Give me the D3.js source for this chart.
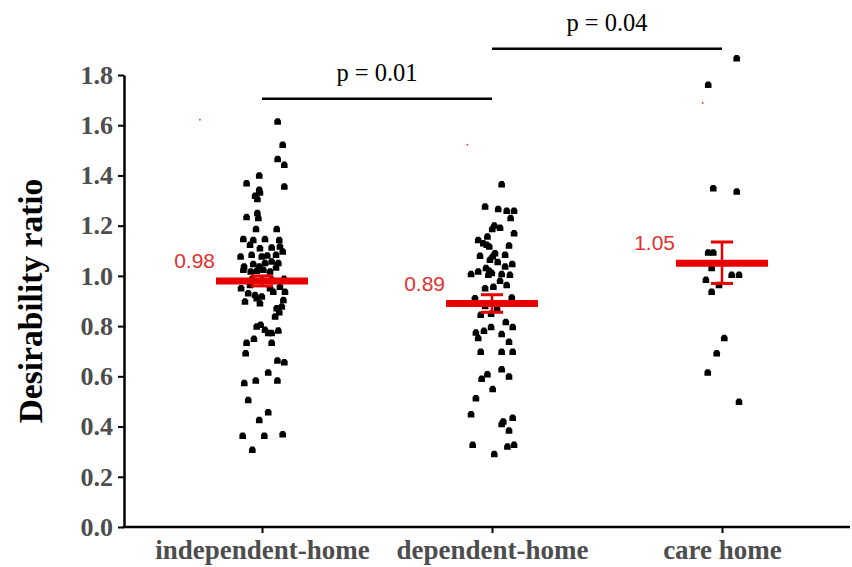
<!DOCTYPE html>
<html>
<head>
<meta charset="utf-8">
<script src="https://cdn.jsdelivr.net/npm/d3@7"></script>
<style>
  html, body { margin: 0; padding: 0; background: #fff; }
  svg { display: block; }
</style>
</head>
<body>
<svg id="chart" width="852" height="567"></svg>
<script>
// ---- data ----
const categories = ["independent-home", "dependent-home", "care home"];
const means = [0.98, 0.89, 1.05];
const errLow = [0.96, 0.855, 0.97];
const errHigh = [1.0, 0.925, 1.135];
const meanLabels = ["0.98", "0.89", "1.05"];
const yTicks = [0, 0.2, 0.4, 0.6, 0.8, 1.0, 1.2, 1.4, 1.6, 1.8];
const yTitle = "Desirability ratio";

const pFrom = [0, 1];
const pTo = [1, 2];
const pLevel = [1.705, 1.905];
const pLabels = ["p = 0.01", "p = 0.04"];

// individual ratios (value) and horizontal jitter (% of category step)
const indValues = [1.615,1.522,1.465,1.442,1.400,1.369,1.356,1.343,1.332,1.319,1.306,1.234,1.250,1.230,1.187,1.187,1.147,1.143,1.147,1.143,1.124,1.110,1.113,1.117,1.077,1.084,1.077,1.081,1.084,1.097,1.037,1.047,1.037,1.051,1.057,1.051,1.024,1.017,1.020,1.024,1.017,1.033,0.988,0.980,0.984,0.988,0.951,0.964,0.951,0.957,0.931,0.924,0.918,0.937,0.937,0.898,0.911,0.891,0.904,0.878,0.871,0.838,0.855,0.798,0.805,0.785,0.772,0.772,0.782,0.749,0.734,0.734,0.692,0.663,0.656,0.615,0.573,0.583,0.583,0.506,0.457,0.426,0.363,0.363,0.369,0.307];
const indJitter = [6.8,9.0,6.8,9.7,-1.2,-6.7,9.7,-1.2,-0.9,-3.0,-2.0,-6.7,-2.0,-1.6,-2.6,6.4,-8.1,-3.8,1.3,7.5,-5.2,-0.9,4.2,7.8,-9.3,-4.5,-0.1,2.3,6.1,9.0,-7.8,-3.8,-1.2,1.3,4.2,7.1,-8.1,-4.9,-2.3,0.6,3.5,6.1,-4.3,0,4.3,9.6,-9.1,-5.2,3.5,7.8,-6.0,-3.0,-0.1,4.9,10.0,-7.4,-2.3,-0.9,9.3,8.6,6.4,5.7,7.5,-2.3,-0.6,1.3,2.7,4.2,7.1,-3.5,-6.7,4.2,-7.1,6.7,9.7,2.7,-7.7,-2.7,6.7,-6.0,2.7,-1.2,-8.4,1.0,9.0,-4.2];
const depValues = [1.365,1.276,1.266,1.259,1.259,1.230,1.200,1.187,1.192,1.170,1.157,1.143,1.130,1.124,1.117,1.121,1.090,1.077,1.064,1.080,1.084,1.055,1.047,1.037,1.031,1.020,1.011,1.004,1.017,1.007,1.007,1.004,0.980,0.957,0.951,0.964,0.911,0.914,0.880,0.869,0.845,0.849,0.816,0.796,0.774,0.781,0.796,0.752,0.768,0.738,0.698,0.698,0.698,0.628,0.599,0.608,0.590,0.549,0.513,0.449,0.435,0.420,0.410,0.384,0.327,0.320,0.327,0.291];
const depJitter = [4.2,-3.0,2.7,6.4,9.6,8.1,1.0,0.1,3.5,9.6,-2.0,-6.0,-3.8,-2.3,-1.2,7.4,1.3,0.3,-0.9,-5.2,5.7,2.5,8.8,5.7,-2.6,-1.2,-0.1,-1.6,-6.0,-9.1,4.2,7.8,3.5,0.6,-3.0,6.4,-7.4,8.6,-3.0,2.2,-4.9,-0.4,6.0,9.0,-7.0,-3.5,-0.4,-6.0,4.2,7.4,-4.9,4.2,9.0,4.2,7.4,-2.0,-4.5,0.3,-7.0,-9.1,9.0,4.9,4.2,7.4,-8.4,6.7,9.6,1.0];
const careValues = [1.867,1.761,1.349,1.336,1.093,1.093,1.031,0.984,0.937,1.004,1.004,0.964,0.752,0.692,0.615,0.499];
const careJitter = [6.4,-6.0,-3.8,6.4,-6.0,-3.8,-4.5,-7.0,-4.5,4.2,7.4,-1.3,1.0,-2.3,-6.2,7.4];

// small stray red marks seen in the original
const strayValues = [1.622, 1.522, 1.688];
const strayJitter = [-27, -10.7, -8.4];

// ---- drawing ----
const svg = d3.select("#chart");
const axisLeftX = 124, axisRightX = 850, axisBottomY = 527, axisTopY = 75;

const y = d3.scaleLinear().domain([0, 1.8]).range([axisBottomY, axisTopY]);
const x = d3.scalePoint().domain(categories).range([262, 722]);
const step = x.step();

const red = "#e80000";
const labelRed = "#e2302f";
const serif = "'Liberation Serif', 'Times New Roman', serif";

// Y axis
const yAxis = svg.append("g")
  .attr("transform", `translate(${axisLeftX},0)`)
  .call(d3.axisLeft(y).tickValues(yTicks).tickFormat(d3.format(".1f")).tickSize(6).tickSizeOuter(0).tickPadding(5));
yAxis.select(".domain").attr("stroke", "#000").attr("stroke-width", 2.5);
yAxis.selectAll(".tick line").attr("stroke", "#000").attr("stroke-width", 2);
yAxis.selectAll(".tick text")
  .attr("font-family", serif).attr("font-weight", "bold").attr("font-size", 26)
  .attr("fill", "#4d4d4d");

// X axis
const xAxis = svg.append("g")
  .attr("transform", `translate(0,${axisBottomY})`)
  .call(d3.axisBottom(x).tickSize(6).tickSizeOuter(0).tickPadding(7));
xAxis.select(".domain").remove();
xAxis.append("line")
  .attr("x1", axisLeftX - 1.25).attr("x2", axisRightX).attr("y1", 0).attr("y2", 0)
  .attr("stroke", "#000").attr("stroke-width", 2.5);
xAxis.selectAll(".tick line").attr("stroke", "#000").attr("stroke-width", 2);
xAxis.selectAll(".tick text")
  .attr("font-family", serif).attr("font-weight", "bold").attr("font-size", 27)
  .attr("fill", "#4d4d4d");

// Y title
svg.append("text")
  .attr("transform", `translate(42,301) rotate(-90)`)
  .attr("text-anchor", "middle")
  .attr("font-family", serif).attr("font-weight", "bold").attr("font-size", 33.5)
  .attr("fill", "#000")
  .text(yTitle);

// points
const groups = [
  { cat: categories[0], values: indValues, jitter: indJitter },
  { cat: categories[1], values: depValues, jitter: depJitter },
  { cat: categories[2], values: careValues, jitter: careJitter }
];
const marker = "M-3.3,3.2 V-1 L-1.7,-3.3 H1.7 L3.3,-1 V3.2 Z";
groups.forEach(g => {
  svg.append("g").selectAll("path")
    .data(g.values.map((v, i) => ({ v, j: g.jitter[i] })))
    .join("path")
    .attr("d", marker)
    .attr("transform", d => `translate(${x(g.cat) + d.j / 100 * step},${y(d.v)})`)
    .attr("fill", "#000");
});

// stray red marks
svg.append("g").selectAll("circle")
  .data(categories.map((c, i) => ({ c, v: strayValues[i], j: strayJitter[i] })))
  .join("circle")
  .attr("cx", d => x(d.c) + d.j / 100 * step)
  .attr("cy", d => y(d.v))
  .attr("r", 1)
  .attr("fill", "#e05050");

// error bars + mean bars
const meanHalf = 46, capHalf = 11;
const stats = categories.map((c, i) => ({ c, m: means[i], lo: errLow[i], hi: errHigh[i], lab: meanLabels[i] }));
const eb = svg.append("g");
eb.selectAll(".stem").data(stats).join("line")
  .attr("x1", d => x(d.c)).attr("x2", d => x(d.c))
  .attr("y1", d => y(d.lo)).attr("y2", d => y(d.hi))
  .attr("stroke", red).attr("stroke-width", 2.5);
eb.selectAll(".capHi").data(stats).join("line")
  .attr("x1", d => x(d.c) - capHalf).attr("x2", d => x(d.c) + capHalf)
  .attr("y1", d => y(d.hi)).attr("y2", d => y(d.hi))
  .attr("stroke", red).attr("stroke-width", 3);
eb.selectAll(".capLo").data(stats).join("line")
  .attr("x1", d => x(d.c) - capHalf).attr("x2", d => x(d.c) + capHalf)
  .attr("y1", d => y(d.lo)).attr("y2", d => y(d.lo))
  .attr("stroke", red).attr("stroke-width", 3);
eb.selectAll(".mean").data(stats).join("line")
  .attr("x1", d => x(d.c) - meanHalf).attr("x2", d => x(d.c) + meanHalf)
  .attr("y1", d => y(d.m)).attr("y2", d => y(d.m))
  .attr("stroke", red).attr("stroke-width", 7);
eb.selectAll("text").data(stats).join("text")
  .attr("x", d => x(d.c) - 47)
  .attr("y", d => y(d.m) - 13)
  .attr("text-anchor", "end")
  .attr("font-family", "'Liberation Sans', Arial, sans-serif")
  .attr("font-size", 21)
  .attr("fill", labelRed)
  .text(d => d.lab);

// significance brackets
const br = svg.append("g");
pLabels.forEach((lab, i) => {
  const x1 = x(categories[pFrom[i]]), x2 = x(categories[pTo[i]]);
  const yy = y(pLevel[i]);
  br.append("line")
    .attr("x1", x1).attr("x2", x2).attr("y1", yy).attr("y2", yy)
    .attr("stroke", "#000").attr("stroke-width", 2.5);
  br.append("text")
    .attr("x", (x1 + x2) / 2).attr("y", yy - 18)
    .attr("text-anchor", "middle")
    .attr("font-family", serif).attr("font-size", 24.5)
    .attr("fill", "#000")
    .text(lab);
});
</script>
</body>
</html>
